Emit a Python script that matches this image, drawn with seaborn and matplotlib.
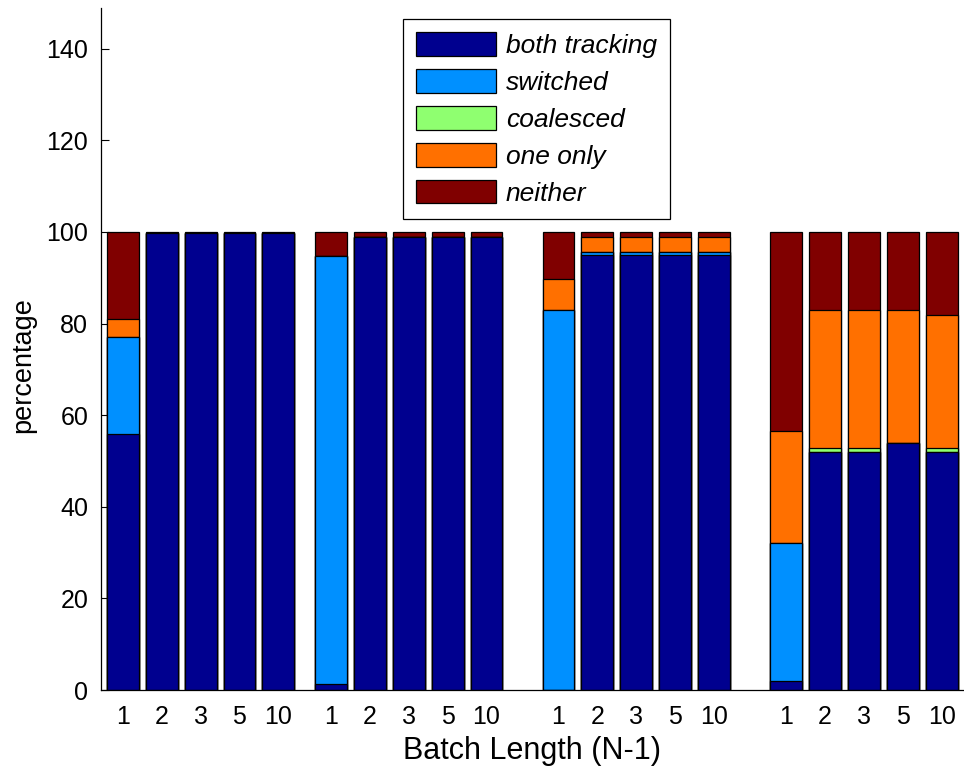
import numpy as np
import pandas as pd
import seaborn as sns
import matplotlib
matplotlib.use("Agg")
import matplotlib.pyplot as plt
from matplotlib.patches import Patch

# bar positions: 4 groups of 5 batch lengths
group_start = [0.0, 5.35, 11.2, 17.05]
batch_labels = ["1", "2", "3", "5", "10"]

layers = ["both tracking", "switched", "coalesced", "one only", "neither"]
colors = ["#00008F", "#0090FF", "#8FFF70", "#FF7000", "#800000"]

both_tracking = [56, 99.7, 99.7, 99.7, 99.7,
                 1.3, 99, 99, 99, 99,
                 0, 94.9, 94.9, 94.9, 94.9,
                 2, 52, 52, 54, 52]
switched = [21, 0, 0, 0, 0,
            93.5, 0, 0, 0, 0,
            83, 0.8, 0.8, 0.8, 0.8,
            30, 0, 0, 0, 0]
coalesced = [0, 0, 0, 0, 0,
             0, 0, 0, 0, 0,
             0, 0, 0, 0, 0,
             0, 0.9, 0.9, 0, 0.9]
one_only = [4, 0, 0, 0, 0,
            0, 0, 0, 0, 0,
            6.8, 3.3, 3.3, 3.3, 3.3,
            24.5, 30, 30, 29, 29]
neither = [19, 0.3, 0.3, 0.3, 0.3,
           5.2, 1, 1, 1, 1,
           10.2, 1, 1, 1, 1,
           43.5, 17.1, 17.1, 17, 18.1]

xpos = [g + i for g in group_start for i in range(len(batch_labels))]
df = pd.DataFrame({"x": xpos, "both tracking": both_tracking, "switched": switched,
                   "coalesced": coalesced, "one only": one_only, "neither": neither})
cum = df[layers].cumsum(axis=1)

sns.set_style("white")
plt.rcParams["font.family"] = ["Liberation Sans", "DejaVu Sans"]
plt.rcParams["text.color"] = "black"
plt.rcParams["axes.labelcolor"] = "black"
plt.rcParams["xtick.color"] = "black"
plt.rcParams["ytick.color"] = "black"

fig = plt.figure(figsize=(9.64, 7.72), dpi=100)
ax = fig.add_axes([0.1045, 0.1062, 0.8945, 0.8834])

# draw cumulative totals from the top layer down so they stack
for name, col in zip(layers[::-1], colors[::-1]):
    sns.barplot(x=df["x"], y=cum[name], native_scale=True, color=col, width=0.82,
                saturation=1, edgecolor="black", linewidth=0.9, ax=ax)

ax.set_xlim(-0.566, 21.6)
ax.set_ylim(0, 148.9)
ax.set_yticks(range(0, 141, 20))
ax.set_xticks(xpos)
ax.set_xticklabels(batch_labels * len(group_start))
ax.tick_params(axis="y", left=True, direction="in", length=6, width=0.8,
               labelsize=18, pad=9, colors="black")
ax.tick_params(axis="x", length=0, labelsize=18, pad=11, colors="black")
ax.set_xlabel("Batch Length (N-1)", fontsize=22, labelpad=5, color="black")
ax.set_ylabel("percentage", fontsize=19.5, color="black")
ax.yaxis.set_label_coords(-0.0745, 0.476)
sns.despine(ax=ax)
for s in ["left", "bottom"]:
    ax.spines[s].set_color("black")
    ax.spines[s].set_linewidth(0.9)

handles = [Patch(facecolor=c, edgecolor="black", linewidth=0.9) for c in colors]
leg = ax.legend(handles, layers, loc="upper center", bbox_to_anchor=(0.5055, 0.984),
                prop={"style": "italic", "size": 19}, frameon=True, borderaxespad=0,
                fancybox=False, edgecolor="black", handlelength=3.03, handleheight=1.0,
                labelspacing=0.42, borderpad=0.5, handletextpad=0.36, framealpha=1)
leg.get_frame().set_linewidth(0.9)
for t in leg.get_texts():
    t.set_color("black")

fig.savefig("out.png", dpi=100)
